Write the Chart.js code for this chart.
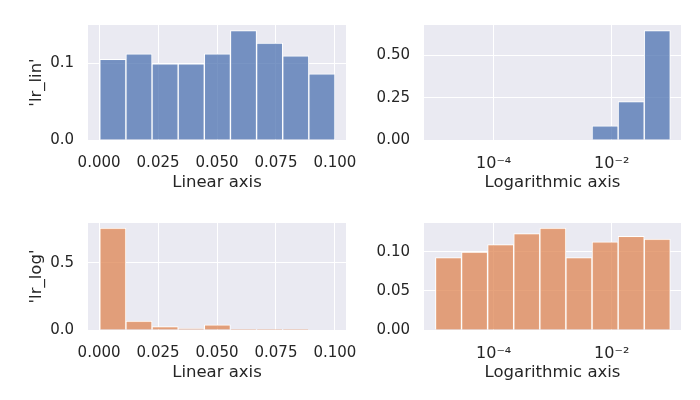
<!DOCTYPE html>
<html>
<head>
<meta charset="utf-8">
<script src="https://cdn.jsdelivr.net/npm/chart.js@4"></script>
<style>
  html, body { margin: 0; padding: 0; background: #fff; }
  #wrap { position: relative; width: 700px; height: 400px; overflow: hidden; }
  canvas { position: absolute; }
</style>
</head>
<body>
<div id="wrap">
  <canvas id="linLin" style="left:0;top:0;width:375px;height:200px" width="375" height="200"></canvas>
  <canvas id="linLog" style="left:360px;top:0;width:340px;height:200px" width="340" height="200"></canvas>
  <canvas id="logLin" style="left:0;top:200px;width:375px;height:200px" width="375" height="200"></canvas>
  <canvas id="logLog" style="left:360px;top:200px;width:340px;height:200px" width="340" height="200"></canvas>
</div>
<script>
// bin centres (9 bins each)
const linBinCenters = [0.00584, 0.01692, 0.02800, 0.03908, 0.05016, 0.06124, 0.07232, 0.08340, 0.09448];
const logBinCenters = [1.718e-5, 4.75e-5, 1.315e-4, 3.64e-4, 1.007e-3, 2.786e-3, 7.73e-3, 2.138e-2, 5.92e-2];

// probabilities per bin
const lrLinOnLinear = [0.1056, 0.1126, 0.0996, 0.0996, 0.1126, 0.1433, 0.1268, 0.1100, 0.0866];
const lrLinOnLog    = [0, 0, 0, 0, 0, 0, 0.084, 0.227, 0.648];
const lrLogOnLinear = [0.760, 0.066, 0.025, 0.011, 0.039, 0.002, 0.002, 0.005, 0];
const lrLogOnLog    = [0.0925, 0.0995, 0.1089, 0.1230, 0.1300, 0.0925, 0.1124, 0.1194, 0.1159];

// tick labels
const linTicks = [0, 0.025, 0.05, 0.075, 0.1];
const logTicks = [1e-4, 1e-2];
const yTicksLinLin = [0, 0.1];
const yTicksLinLog = [0, 0.25, 0.5];
const yTicksLogLin = [0, 0.5];
const yTicksLogLog = [0, 0.05, 0.1];

const BLUE = 'rgba(76,114,176,0.75)';
const ORANGE = 'rgba(221,132,82,0.75)';
const TEXT = '#262626';

Chart.defaults.font.family = "'DejaVu Sans', sans-serif";
Chart.defaults.color = TEXT;

const sup = { '-': '\u207B', '0': '\u2070', '1': '\u00B9', '2': '\u00B2', '3': '\u00B3', '4': '\u2074', '5': '\u2075' };
const powLabel = v => '10' + String(Math.round(Math.log10(v))).split('').map(c => sup[c]).join('');

const plotBg = {
    id: 'plotBg',
    beforeDraw(chart) {
        const a = chart.chartArea, ctx = chart.ctx;
        ctx.save();
        ctx.fillStyle = '#EAEAF2';
        ctx.fillRect(a.left, a.top, a.right - a.left, a.bottom - a.top);
        ctx.restore();
    }
};

function histogram(id, o) {
    const ctx = document.getElementById(id).getContext('2d');
    const isLog = o.xType === 'logarithmic';
    return new Chart(ctx, {
        type: 'bar',
        data: {
            datasets: [{
                data: o.centers.map((c, i) => ({ x: c, y: o.values[i] })),
                backgroundColor: o.color,
                borderColor: '#ffffff',
                borderWidth: 1,
                barPercentage: 1,
                categoryPercentage: 1
            }]
        },
        options: {
            responsive: false,
            animation: false,
            events: [],
            layout: { padding: o.pad },
            plugins: { legend: { display: false }, tooltip: { enabled: false } },
            scales: {
                x: {
                    type: o.xType,
                    min: o.xMin,
                    max: o.xMax,
                    offset: false,
                    grid: { color: '#ffffff', lineWidth: 1, drawTicks: false, offset: false },
                    border: { display: false },
                    afterBuildTicks: s => { s.ticks = o.xTicks.map(v => ({ value: v })); },
                    afterFit: s => { s.height = 60; },
                    ticks: {
                        autoSkip: false, maxRotation: 0, padding: 14,
                        font: { size: isLog ? 16 : 15 },
                        callback: v => isLog ? powLabel(v) : v.toFixed(3)
                    },
                    title: { display: true, text: o.xTitle, font: { size: 16.5 }, padding: { top: 0, bottom: 7.5 } }
                },
                y: {
                    min: 0,
                    max: Math.max(...o.values) * 1.05,
                    grid: { color: '#ffffff', lineWidth: 1, drawTicks: false },
                    border: { display: false },
                    afterBuildTicks: s => { s.ticks = o.yTicks.map(v => ({ value: v })); },
                    afterFit: s => { s.width = o.yWidth; },
                    ticks: {
                        padding: 14,
                        font: { size: 15 },
                        callback: v => v.toFixed(o.yDecimals)
                    },
                    title: { display: !!o.yTitle, text: o.yTitle, font: { size: 16.5 }, padding: { top: 27, bottom: 0 } }
                }
            }
        },
        plugins: [plotBg]
    });
}

histogram('linLin', {
    centers: linBinCenters, values: lrLinOnLinear, color: BLUE,
    xType: 'linear', xMin: -0.0047, xMax: 0.1047, xTicks: linTicks,
    yTicks: yTicksLinLin, yDecimals: 1, xTitle: 'Linear axis', yTitle: "'lr_lin'",
    pad: { top: 25, right: 29, bottom: 0, left: 0 }, yWidth: 88
});
histogram('linLog', {
    centers: logBinCenters, values: lrLinOnLog, color: BLUE,
    xType: 'logarithmic', xMin: Math.pow(10, -5.18), xMax: Math.pow(10, -0.826), xTicks: logTicks,
    yTicks: yTicksLinLog, yDecimals: 2, xTitle: 'Logarithmic axis', yTitle: '',
    pad: { top: 25, right: 19, bottom: 0, left: 0 }, yWidth: 64
});
histogram('logLin', {
    centers: linBinCenters, values: lrLogOnLinear, color: ORANGE,
    xType: 'linear', xMin: -0.0047, xMax: 0.1047, xTicks: linTicks,
    yTicks: yTicksLogLin, yDecimals: 1, xTitle: 'Linear axis', yTitle: "'lr_log'",
    pad: { top: 13, right: 29, bottom: 10, left: 0 }, yWidth: 88
});
histogram('logLog', {
    centers: logBinCenters, values: lrLogOnLog, color: ORANGE,
    xType: 'logarithmic', xMin: Math.pow(10, -5.18), xMax: Math.pow(10, -0.826), xTicks: logTicks,
    yTicks: yTicksLogLog, yDecimals: 2, xTitle: 'Logarithmic axis', yTitle: '',
    pad: { top: 13, right: 19, bottom: 10, left: 0 }, yWidth: 64
});
</script>
</body>
</html>
